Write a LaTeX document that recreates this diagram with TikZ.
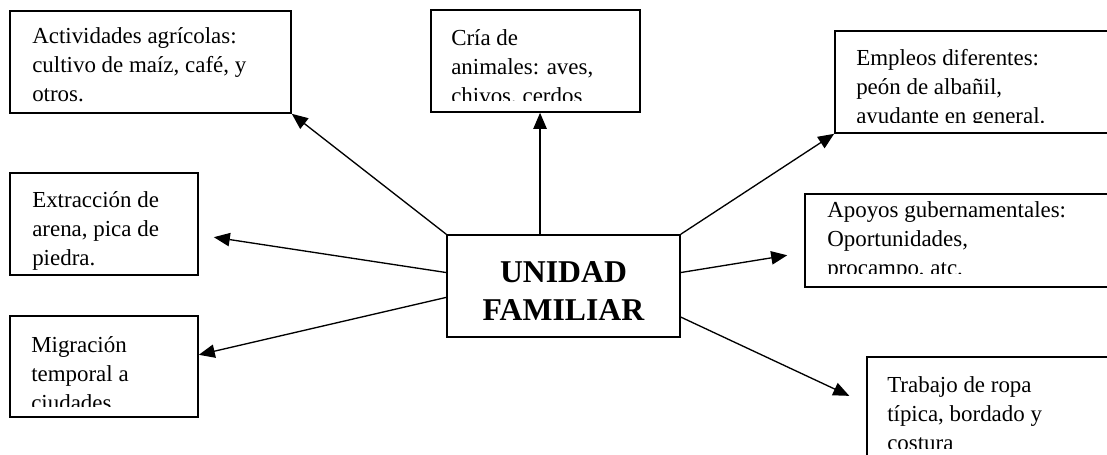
\documentclass[tikz,border=0pt]{standalone}
\usepackage{fontspec}
\setmainfont{Liberation Serif}
\usetikzlibrary{arrows.meta,fit,calc}

\begin{document}
\begin{tikzpicture}[x=0.75pt,y=-0.75pt,
    box/.style={draw, line width=1.2pt, inner sep=0pt},
    box text/.style={anchor=north west, inner sep=0pt, align=left, font=\fontsize{17.2}{21.8}\selectfont},
    link/.style={-{Triangle[length=12pt,width=10pt]}, line width=1pt}]

    \useasboundingbox (0,0) rectangle (1107,454);
    \clip (0,0) rectangle (1107,454);

    % cajas
    \node[box, fit={(447,235) (680,337)}] (uf) {};
    \node[align=center, font=\fontsize{23.8}{28.5}\selectfont\bfseries] (uf text) at ([yshift=-3.75pt]uf.center) {UNIDAD\\FAMILIAR};
    \node[box, fit={(10,11) (291,113)}] (act) {};
    \node[box, fit={(431,10) (640,112)}] (cria) {};
    \node[box, fit={(835,31) (1120,133)}] (emp) {};
    \node[box, fit={(10,173) (198,275)}] (ext) {};
    \node[box, fit={(805,194) (1120,287)}] (apo) {};
    \node[box, fit={(10,316) (198,417)}] (mig) {};
    \node[box, fit={(867,357) (1120,470)}] (tra) {};

    % textos
    \node[box text] (act text) at (32,22.5) {\strut Actividades agrícolas:\\cultivo de maíz, café, y\\otros.};
    \node[box text] (ext text) at (32,187) {\strut Extracción de\\arena, pica de\\piedra.};
    \begin{scope}
        \clip (431,10) rectangle (640,100);
        \node[box text] (cria text) at (451,25) {\strut Cría de\\animales: aves,\\chivos, cerdos};
    \end{scope}
    \begin{scope}
        \clip (835,31) rectangle (1107,122);
        \node[box text] (emp text) at (856,44.5) {\strut Empleos diferentes:\\peón de albañil,\\ayudante en general.};
    \end{scope}
    \begin{scope}
        \clip (805,194) rectangle (1107,273);
        \node[box text] (apo text) at (827,196.5) {\strut Apoyos gubernamentales:\\Oportunidades,\\procampo, atc.};
    \end{scope}
    \begin{scope}
        \clip (10,316) rectangle (198,406);
        \node[box text] (mig text) at (31,332) {\strut Migración\\temporal a\\ciudades};
    \end{scope}
    \begin{scope}
        \clip (867,357) rectangle (1107,448);
        \node[box text] (tra text) at (887,371.5) {\strut Trabajo de ropa\\típica, bordado y\\costura};
    \end{scope}

    % flechas
    \coordinate (uf top) at ($(uf.north west)!0.40!(uf.north east)$);
    \draw[link] (uf.north west) -- (act.south east);
    \draw[link] (uf top) -- (uf top |- cria.south);
    \draw[link] (uf.north east) -- (emp.south west);
    \draw[link, shorten >=11.4pt] ($(uf.north west)!0.37!(uf.south west)$) -- ($(ext.north east)!0.605!(ext.south east)$);
    \draw[link] ($(uf.north west)!0.61!(uf.south west)$) -- ($(mig.north east)!0.386!(mig.south east)$);
    \draw[link, shorten >=12.9pt] ($(uf.north east)!0.37!(uf.south east)$) -- ($(apo.north west)!0.627!(apo.south west)$);
    \draw[link, shorten >=14pt] ($(uf.north east)!0.80!(uf.south east)$) -- ($(tra.north west)!0.415!(tra.south west)$);

\end{tikzpicture}
\end{document}
